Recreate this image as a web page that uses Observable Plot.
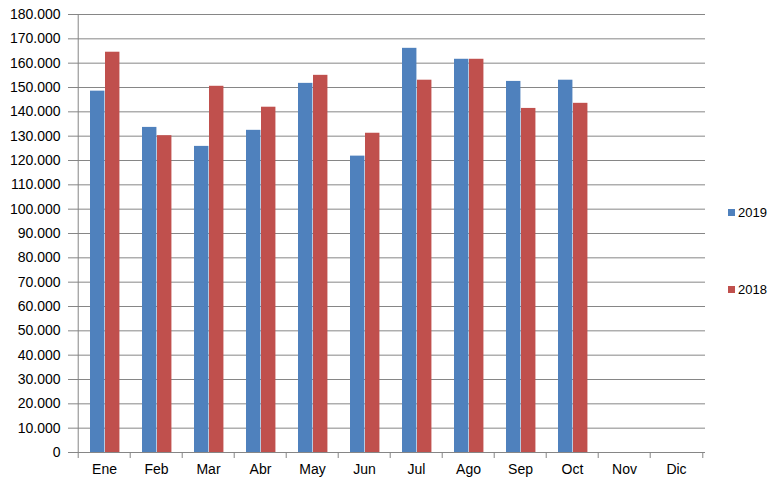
<!DOCTYPE html>
<html>
<head>
<meta charset="utf-8">
<script src="https://cdn.jsdelivr.net/npm/d3@7"></script>
<script src="https://cdn.jsdelivr.net/npm/@observablehq/plot@0.6"></script>
<style>
  html, body { margin: 0; padding: 0; background: #fff; }
  #wrap { position: relative; width: 776px; height: 490px; font-family: "Liberation Sans", Arial, sans-serif; }
  .leg { position: absolute; left: 728px; font-size: 13px; color: #000; display: flex; align-items: center; }
  .leg span.sw { display: inline-block; width: 7px; height: 7px; margin-right: 3px; }
</style>
</head>
<body>
<div id="wrap"></div>
<script>
const months = ["Ene","Feb","Mar","Abr","May","Jun","Jul","Ago","Sep","Oct","Nov","Dic"];
const series = ["2019", "2018"];
const values2019 = [148500, 133600, 125800, 132400, 151700, 121800, 166100, 161600, 152500, 153000, null, null];
const values2018 = [164500, 130200, 150500, 141900, 155000, 131200, 153000, 161600, 141400, 143500, null, null];
const colors = ["#4F81BD", "#C0504D"];
const yTicks = d3.range(0, 180001, 10000);

const rows2019 = months.map((m, i) => ({month: m, value: values2019[i]})).filter(d => d.value != null);
const rows2018 = months.map((m, i) => ({month: m, value: values2018[i]})).filter(d => d.value != null);

const fmt = d3.formatLocale({decimal: ",", thousands: ".", grouping: [3], currency: ["", ""]}).format(",");

const W = 776, H = 490;
const mL = 74, mR = 71, mT = 14, mB = 38;
const step = (W - mL - mR) / months.length;
const grid = "#868686";

const chart = Plot.plot({
  width: W,
  height: H,
  marginLeft: mL,
  marginRight: mR,
  marginTop: mT,
  marginBottom: mB,
  style: {fontFamily: "'Liberation Sans', Arial, sans-serif", fontSize: "14px", color: "#000", background: "#fff"},
  x: {domain: months, padding: 0, label: null},
  y: {domain: [0, 180000], label: null},
  marks: [
    Plot.gridY(yTicks, {stroke: grid, strokeOpacity: 1}),
    Plot.barY(rows2019, {x: "month", y: "value", fill: colors[0], insetLeft: 12, insetRight: step - 27}),
    Plot.barY(rows2018, {x: "month", y: "value", fill: colors[1], insetLeft: 27, insetRight: step - 42}),
    Plot.ruleY([0], {stroke: grid}),
    Plot.ruleX([months[0]], {dx: -step / 2, stroke: grid}),
    Plot.axisY(yTicks, {tickSize: 6, tickPadding: 8, stroke: grid, tickFormat: fmt, fill: "#000", fontSize: 14}),
    Plot.axisX(months, {tickSize: 6, text: null, dx: -step / 2, stroke: grid}),
    Plot.axisX([months[months.length - 1]], {tickSize: 6, text: null, dx: step / 2, stroke: grid}),
    Plot.axisX(months, {tickSize: 0, tickPadding: 12, fill: "#000", fontSize: 14})
  ]
});

const wrap = document.getElementById("wrap");
wrap.appendChild(chart);

const legendY = [213, 290];
series.forEach((s, i) => {
  const d = document.createElement("div");
  d.className = "leg";
  d.style.top = (legendY[i] - 8) + "px";
  d.innerHTML = `<span class="sw" style="background:${colors[i]}"></span><span>${s}</span>`;
  wrap.appendChild(d);
});
</script>
</body>
</html>
